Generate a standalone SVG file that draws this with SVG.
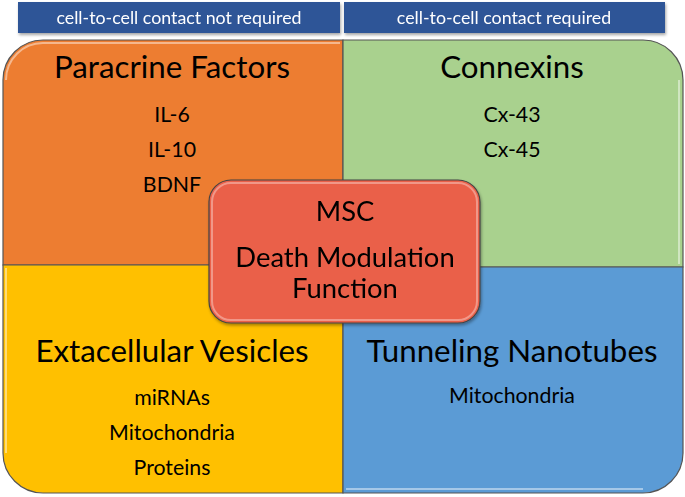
<svg xmlns="http://www.w3.org/2000/svg" width="685" height="497" viewBox="0 0 685 497">
<style>
  .t{font-family:Lato,"Open Sans","Liberation Sans",sans-serif;fill:#000;text-anchor:middle}
  .h{font-size:31.3px}
  .s{font-size:21.3px}
  .c{font-size:27.4px}
  .b{font-family:Lato,"Open Sans","Liberation Sans",sans-serif;fill:#fff;font-size:17.8px;text-anchor:middle}
  .q{stroke:#555;stroke-width:1.2}
  .hl{fill:none;stroke:#fff;stroke-opacity:0.45;stroke-width:2}
</style>
<defs>
  <filter id="sh" x="-10%" y="-10%" width="125%" height="140%">
    <feDropShadow dx="1" dy="2" stdDeviation="1.5" flood-color="#000" flood-opacity="0.35"/>
  </filter>
</defs>
<rect width="685" height="497" fill="#fff"/>
<g id="banner-left" filter="url(#sh)">
  <rect x="18" y="2" width="322" height="31" fill="#2F5597"/>
  <text class="b" x="179" y="23.5">cell-to-cell contact not required</text>
</g>
<g id="banner-right" filter="url(#sh)">
  <rect x="344" y="2" width="321" height="31" fill="#2F5597"/>
  <text class="b" x="504" y="23.5">cell-to-cell contact required</text>
</g>
<g id="paracrine">
  <path class="q" d="M343 40 H43 A40 40 0 0 0 3 80 V265 H343 Z" fill="#ED7D31"/>
  <path class="hl" d="M340 43 H44 A37 37 0 0 0 6 80"/>
  <text class="t h" x="172" y="78">Paracrine Factors</text>
  <text class="t s" x="172" y="122">IL-6</text>
  <text class="t s" x="172" y="157">IL-10</text>
  <text class="t s" x="172" y="192">BDNF</text>
</g>
<g id="connexins">
  <path class="q" d="M343 40 H643 A40 40 0 0 1 683 80 V267 H343 Z" fill="#A9D18E"/>
  <path class="hl" d="M679 80 V264"/>
  <text class="t h" x="512" y="78">Connexins</text>
  <text class="t s" x="512" y="122">Cx-43</text>
  <text class="t s" x="512" y="157">Cx-45</text>
</g>
<g id="vesicles">
  <path class="q" d="M3 265 V453 A40 40 0 0 0 43 493 H343 V265 Z" fill="#FFC000"/>
  <path class="hl" d="M6 268 V453"/>
  <text class="t h" x="172" y="362">Extacellular Vesicles</text>
  <text class="t s" x="172" y="405">miRNAs</text>
  <text class="t s" x="172" y="440">Mitochondria</text>
  <text class="t s" x="172" y="475">Proteins</text>
</g>
<g id="nanotubes">
  <path class="q" d="M343 267 V493 H643 A40 40 0 0 0 683 453 V267 Z" fill="#5B9BD5"/>
  <path class="hl" d="M346 489 H643"/>
  <text class="t h" x="512" y="362">Tunneling Nanotubes</text>
  <text class="t s" x="512" y="403">Mitochondria</text>
</g>
<g id="msc" filter="url(#sh)">
  <rect x="209" y="180" width="271" height="143" rx="22" fill="#EA6049" stroke="#444" stroke-width="1.2"/>
  <rect x="212" y="183" width="265" height="137" rx="19" fill="none" stroke="#fff" stroke-opacity="0.35" stroke-width="2"/>
  <text class="t c" x="345" y="221">MSC</text>
  <text class="t c" x="345" y="267">Death Modulation</text>
  <text class="t c" x="345" y="298">Function</text>
</g>
<g id="connectors"></g>
</svg>
